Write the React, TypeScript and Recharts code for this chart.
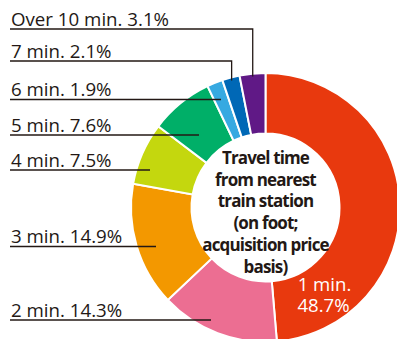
import React from 'react';
import { PieChart, Pie, Cell } from 'recharts';

const categories = ['1 min.', '2 min.', '3 min.', '4 min.', '5 min.', '6 min.', '7 min.', 'Over 10 min.'];
const shares = [48.7, 14.3, 14.9, 7.5, 7.6, 1.9, 2.1, 3.1];
const colors = ['#E8390E', '#EC6E92', '#F39800', '#C4D70E', '#00AF68', '#36A9E1', '#0068B6', '#601986'];
const centerLines = ['Travel time', 'from nearest', 'train station', '(on foot;', 'acquisition price', 'basis)'];

const data = categories.map((c, i) => ({ name: c, value: shares[i] }));

// layout of the left-column callouts (annotation layout, not data)
const calloutLayout: Record<number, { lineY: number; endX?: number; elbow?: boolean }> = {
  1: { lineY: 320, endX: 211 },
  2: { lineY: 246.5, endX: 156 },
  3: { lineY: 170, endX: 150 },
  4: { lineY: 135, endX: 199 },
  5: { lineY: 99.5, endX: 221 },
  6: { lineY: 61, elbow: true },
  7: { lineY: 29, elbow: true },
};

const TEXT = '#231815';
const FONT = '"Open Sans", "Noto Sans", sans-serif';
const RAD = Math.PI / 180;

const renderLabel = (props: any) => {
  const { cx, cy, midAngle, outerRadius, index, value } = props;
  const name = categories[index];
  if (index === 0) {
    return (
      <g>
        <text fill="#fff" fontFamily={FONT} fontSize={18.6} textAnchor="middle">
          <tspan x={cx + 59} y={cy + 83}>{name}</tspan>
          <tspan x={cx + 58} y={cy + 104}>{`${value}%`}</tspan>
        </text>
        <text
          fill={TEXT}
          fontFamily={FONT}
          fontWeight={700}
          fontSize={17}
          letterSpacing={-0.85}
          textAnchor="middle"
        >
          {centerLines.map((l, i) => (
            <tspan key={i} x={cx} y={cy - 43.5 + i * 21.7}>
              {l}
            </tspan>
          ))}
        </text>
      </g>
    );
  }
  const lay = calloutLayout[index];
  let path: string;
  if (lay.elbow) {
    const r = outerRadius - 3;
    const ex = cx + r * Math.cos(midAngle * RAD);
    const ey = cy - r * Math.sin(midAngle * RAD);
    path = `M10,${lay.lineY} H${ex} V${ey}`;
  } else {
    path = `M10,${lay.lineY} H${lay.endX}`;
  }
  return (
    <g>
      <path d={path} stroke={TEXT} strokeWidth={1.3} fill="none" />
      <text x={11} y={lay.lineY - 3.5} fill={TEXT} fontFamily={FONT} fontSize={18.7}>
        {`${name} ${value}%`}
      </text>
    </g>
  );
};

export default function App() {
  return (
    <div style={{ position: 'absolute', left: 0, top: 0 }}>
      <PieChart width={397} height={339} margin={{ top: 0, right: 0, bottom: 0, left: 0 }}>
        <Pie
          data={data}
          dataKey="value"
          nameKey="name"
          cx={265.5}
          cy={207.5}
          innerRadius={74}
          outerRadius={134.5}
          startAngle={90}
          endAngle={-270}
          stroke="#fff"
          strokeWidth={2}
          label={renderLabel}
          labelLine={false}
          isAnimationActive={false}
        >
          {data.map((d, i) => (
            <Cell key={d.name} fill={colors[i]} />
          ))}
        </Pie>
      </PieChart>
    </div>
  );
}
